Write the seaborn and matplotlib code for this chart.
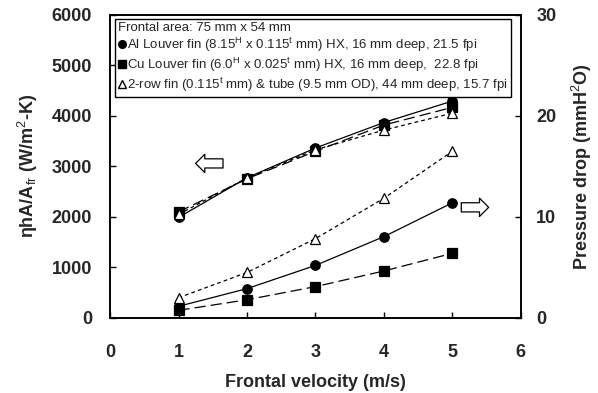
import numpy as np
import pandas as pd
import matplotlib
matplotlib.use("Agg")
import matplotlib.pyplot as plt
from matplotlib.lines import Line2D
import seaborn as sns

# Frontal velocity (m/s)
velocity = [1, 2, 3, 4, 5]

# Heat transfer performance, eta*h*A/A_fr (W/m^2-K)
heat_al = [1990, 2775, 3365, 3870, 4295]
heat_cu = [2100, 2755, 3300, 3820, 4170]
heat_tube = [2050, 2770, 3330, 3720, 4055]

# Pressure drop (mmH2O)
dp_al = [1.15, 2.9, 5.2, 8.05, 11.4]
dp_cu = [0.75, 1.8, 3.1, 4.65, 6.4]
dp_tube = [2.0, 4.5, 7.85, 11.85, 16.5]

legend_title = "Frontal area: 75 mm x 54 mm"
label_al = r"Al Louver fin (8.15$^{\mathrm{H}}$ x 0.115$^{\mathrm{t}}$ mm) HX, 16 mm deep, 21.5 fpi"
label_cu = r"Cu Louver fin (6.0$^{\mathrm{H}}$ x 0.025$^{\mathrm{t}}$ mm) HX, 16 mm deep,  22.8 fpi"
label_tube = r"2-row fin (0.115$^{\mathrm{t}}$ mm) & tube (9.5 mm OD), 44 mm deep, 15.7 fpi"

sns.set_theme(style="white")
plt.rcParams["font.family"] = ["Liberation Sans", "DejaVu Sans"]
plt.rcParams["mathtext.fontset"] = "custom"
plt.rcParams["mathtext.rm"] = "Liberation Sans"
plt.rcParams["mathtext.it"] = "Liberation Sans:italic"
plt.rcParams["mathtext.bf"] = "Liberation Sans:bold"

fig = plt.figure(figsize=(5.98, 3.93), dpi=100)
ax = fig.add_axes([0.184, 0.191, 0.687, 0.771])
ax2 = ax.twinx()

styles = {
    "al": dict(marker="o", linestyle="-", mfc="black", mec="black"),
    "cu": dict(marker="s", linestyle=(0, (9, 4)), mfc="black", mec="black"),
    "tube": dict(marker="^", linestyle=(0, (3, 2.5)), mfc="white", mec="black"),
}

def draw(axis, y, key):
    sns.lineplot(x=velocity, y=y, ax=axis, color="black", lw=0.9,
                 markersize=6.8, mew=0.9, legend=False, **styles[key])

draw(ax, heat_al, "al")
draw(ax, heat_cu, "cu")
draw(ax, heat_tube, "tube")
draw(ax2, dp_al, "al")
draw(ax2, dp_cu, "cu")
draw(ax2, dp_tube, "tube")

ax.set_xlim(0, 6)
ax.set_ylim(0, 6000)
ax2.set_ylim(0, 30)
ax.set_xticks(range(0, 7))
ax.set_yticks(range(0, 6001, 1000))
ax2.set_yticks([0, 10, 20, 30])

bold = dict(fontsize=13, fontweight="bold")
ax.set_xlabel("Frontal velocity (m/s)", labelpad=9, **bold)
ax.set_ylabel("ηhA/A$_{\\mathrm{fr}}$ (W/m$^{2}$-K)", labelpad=8, **bold)
ax2.set_ylabel(r"Pressure drop (mmH$^{2}$O)", labelpad=10, **bold)

for a in (ax, ax2):
    a.tick_params(direction="in", length=4, width=1, color="black",
                  labelsize=13)
    for lab in a.get_xticklabels() + a.get_yticklabels():
        lab.set_fontweight("bold")
    for s in a.spines.values():
        s.set_color("black")
        s.set_linewidth(1.2)
ax.tick_params(axis="x", bottom=True, pad=19)
ax.tick_params(axis="y", left=True, pad=13)
ax2.tick_params(axis="y", right=True, pad=11)

# Direction arrows pointing to each axis
arrow_kw = dict(arrowstyle="simple,head_length=0.55,head_width=1.1,tail_width=0.55",
                fc="white", ec="black", lw=0.9, shrinkA=0, shrinkB=0,
                mutation_scale=12)
ax.annotate("", xy=(1.25, 3060), xytext=(1.65, 3060), arrowprops=arrow_kw)
ax.annotate("", xy=(5.53, 2190), xytext=(5.13, 2190), arrowprops=arrow_kw)

handles = [
    Line2D([], [], ls="none", marker="o", color="black", markersize=5.5),
    Line2D([], [], ls="none", marker="s", color="black", markersize=5.5),
    Line2D([], [], ls="none", marker="^", mfc="white", mec="black", markersize=6),
]
leg = ax2.legend(handles, [label_al, label_cu, label_tube], title=legend_title,
                 loc="upper left", bbox_to_anchor=(0.012, 0.985),
                 fontsize=9.5, title_fontsize=9.5, alignment="left",
                 frameon=True, fancybox=False, edgecolor="black", framealpha=1,
                 handlelength=0.6, handletextpad=0.12, borderpad=0.22,
                 labelspacing=0.14, borderaxespad=0)
leg.get_frame().set_linewidth(1)
leg._legend_box.sep = 1

fig.savefig("out.png", dpi=100)
